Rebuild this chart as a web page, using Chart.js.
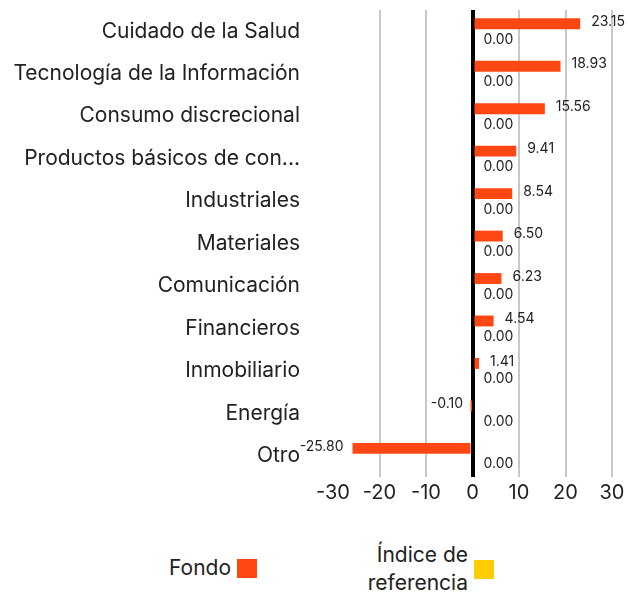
<!DOCTYPE html>
<html>
<head>
    <meta charset="utf-8">
    <script src="https://cdn.jsdelivr.net/npm/chart.js@4.4.0/dist/chart.umd.min.js"></script>
    <style>
        body {
            margin: 0;
            background: #fff;
            font-family: Inter, "Open Sans", sans-serif;
            color: #222;
        }
        #chart-container {
            position: absolute;
            left: 0;
            top: 0;
            width: 628px;
            height: 520px;
        }
        .legend-item {
            position: absolute;
            display: flex;
            align-items: center;
            font-size: 21px;
            line-height: 28px;
        }
        .legend-item span {
            text-align: right;
        }
        .swatch {
            width: 20px;
            height: 19px;
            margin-left: 6px;
        }
    </style>
</head>
<body>
    <div id="chart-container">
        <canvas id="sectorChart"></canvas>
    </div>
    <div class="legend-item" style="right:371px; top:554px;">
        <span>Fondo</span><div class="swatch" style="background:#FF4713;"></div>
    </div>
    <div class="legend-item" style="right:134px; top:541px;">
        <span>Índice de<br>referencia</span><div class="swatch" style="background:#FFCE00;"></div>
    </div>

    <script>
        const categories = ["Cuidado de la Salud", "Tecnología de la Información", "Consumo discrecional",
            "Productos básicos de con...", "Industriales", "Materiales", "Comunicación",
            "Financieros", "Inmobiliario", "Energía", "Otro"];
        const fondo = [23.15, 18.93, 15.56, 9.41, 8.54, 6.50, 6.23, 4.54, 1.41, -0.10, -25.80];
        const indice = [0, 0, 0, 0, 0, 0, 0, 0, 0, 0, 0];
        const xTicks = [-30, -20, -10, 0, 10, 20, 30];

        // draws the value next to each bar end
        const valueLabels = {
            id: 'valueLabels',
            afterDatasetsDraw: function (chart) {
                const ctx = chart.ctx;
                ctx.save();
                ctx.font = '14px Inter, "Open Sans", sans-serif';
                ctx.fillStyle = '#222';
                ctx.textBaseline = 'middle';
                chart.data.datasets.forEach(function (ds, i) {
                    chart.getDatasetMeta(i).data.forEach(function (bar, j) {
                        const v = ds.data[j];
                        const neg = v < 0;
                        ctx.textAlign = neg ? 'right' : 'left';
                        const x = neg ? bar.x - 9 : bar.x + 11;
                        const y = i === 0 ? bar.y - 2 : bar.y + 1;
                        ctx.fillText(v.toFixed(2), x, y);
                    });
                });
                ctx.restore();
            }
        };

        const ctx = document.getElementById('sectorChart').getContext('2d');
        const sectorChart = new Chart(ctx, {
            type: 'bar',
            data: {
                labels: categories,
                datasets: [
                    { label: 'Fondo', data: fondo, backgroundColor: '#FF4713' },
                    { label: 'Índice de referencia', data: indice, backgroundColor: '#FFCE00' }
                ]
            },
            options: {
                indexAxis: 'y',
                responsive: true,
                maintainAspectRatio: false,
                animation: false,
                categoryPercentage: 0.7,
                barPercentage: 0.73,
                layout: { padding: { top: 10, right: 0, left: 0, bottom: 11 } },
                plugins: {
                    legend: { display: false },
                    tooltip: { enabled: false }
                },
                scales: {
                    x: {
                        min: -30,
                        max: 30,
                        afterBuildTicks: function (axis) {
                            axis.ticks = xTicks.map(v => ({ value: v }));
                        },
                        afterFit: function (scale) {
                            scale.paddingLeft = 0;
                            scale.paddingRight = 16;
                        },
                        border: { display: false },
                        grid: {
                            drawTicks: false,
                            color: function (c) {
                                if (c.tick.value === 0) return '#000';
                                if (c.tick.value === -30) return 'rgba(0,0,0,0)';
                                return '#c8c8c8';
                            },
                            lineWidth: function (c) {
                                return c.tick.value === 0 ? 4 : 2;
                            }
                        },
                        ticks: {
                            padding: 4,
                            color: '#222',
                            font: { family: 'Inter, "Open Sans", sans-serif', size: 20 }
                        }
                    },
                    y: {
                        border: { display: false },
                        grid: { display: false, drawTicks: false },
                        afterFit: function (scale) {
                            // tick padding should only push labels sideways, and the
                            // long labels need more than half the width
                            scale.paddingTop = 0;
                            scale.paddingBottom = 0;
                            scale.width = 333;
                        },
                        ticks: {
                            padding: 33,
                            color: '#222',
                            font: { family: 'Inter, "Open Sans", sans-serif', size: 21 }
                        }
                    }
                }
            },
            plugins: [valueLabels]
        });
    </script>
</body>
</html>
